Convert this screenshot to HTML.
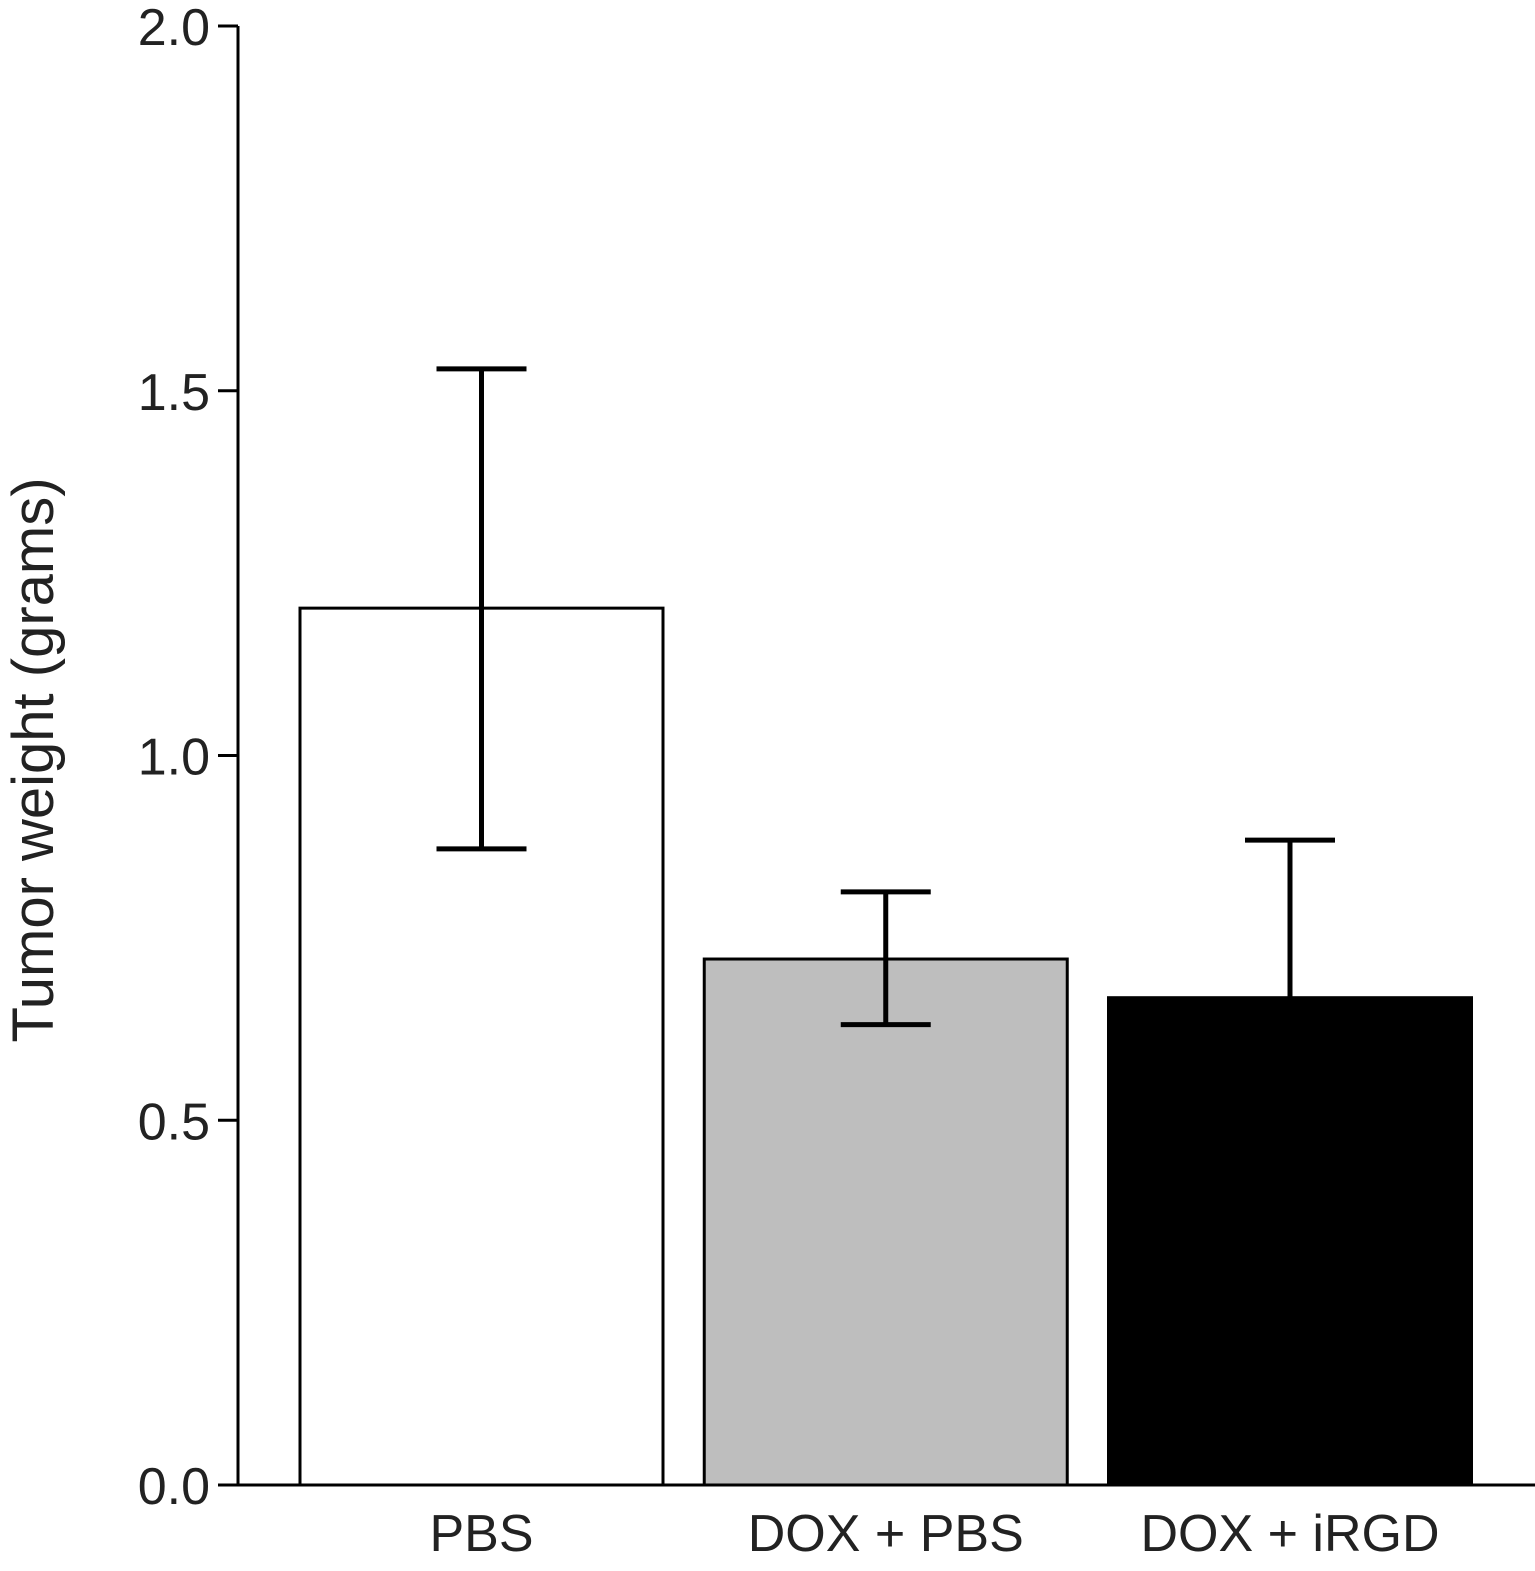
<!DOCTYPE html>
<html><head><meta charset="utf-8"><style>
html,body{margin:0;padding:0;background:#fff;}
svg{display:block;font-family:"Liberation Sans",sans-serif;}
</style></head><body>
<svg id="chart" width="1535" height="1571" viewBox="0 0 1535 1571"></svg>
<script>
const categories = ["PBS", "DOX + PBS", "DOX + iRGD"];
const means = [1.202, 0.721, 0.668];
const errUpper = [1.530, 0.813, 0.884];
const errLower = [0.872, 0.631, null];
const fills = ["#ffffff", "#bebebe", "#000000"];
const yTicks = [0, 0.5, 1.0, 1.5, 2.0];
const yTickLabels = ["0.0", "0.5", "1.0", "1.5", "2.0"];

const NS = "http://www.w3.org/2000/svg";
const svg = document.getElementById("chart");
const y0 = 1485, y2 = 26, axisX = 238;
function yScale(v){ return y0 - (v/2)*(y0-y2); }
function xCenter(i){ return 481.5 + i*404.25; }
const barW = 363;
function mk(tag, attrs, parent){
  const e = document.createElementNS(NS, tag);
  for (const k in attrs) e.setAttribute(k, attrs[k]);
  (parent||svg).appendChild(e);
  return e;
}

categories.forEach((c,i)=>{
  const top = yScale(means[i]);
  const r = mk("rect",{x:xCenter(i)-barW/2, y:top, width:barW, height:y0-top, fill:fills[i], stroke:"#000","stroke-width":3});
  
  
});
categories.forEach((c,i)=>{
  const cx = xCenter(i);
  const g = mk("g",{stroke:"#000","stroke-width":5,fill:"none"});
  
  
  const lo = errLower[i] == null ? means[i] : errLower[i];
  mk("line",{x1:cx,x2:cx,y1:yScale(errUpper[i]),y2:yScale(lo)},g);
  mk("line",{x1:cx-45,x2:cx+45,y1:yScale(errUpper[i]),y2:yScale(errUpper[i])},g);
  if (errLower[i] != null) mk("line",{x1:cx-45,x2:cx+45,y1:yScale(lo),y2:yScale(lo)},g);
});
const ax = mk("line",{x1:axisX,x2:axisX,y1:y2,y2:y0+1,stroke:"#000","stroke-width":3});


const xa = mk("line",{x1:axisX,x2:1535,y1:y0,y2:y0,stroke:"#000","stroke-width":3});


yTicks.forEach((v,i)=>{
  const y = yScale(v);
  const t = mk("line",{x1:218,x2:axisX,y1:y,y2:y,stroke:"#000","stroke-width":3});
  
  
  const l = mk("text",{x:210,y:y+19,"text-anchor":"end","font-size":52,fill:"#222"});
  l.textContent = yTickLabels[i];
  
  
});
categories.forEach((c,i)=>{
  const l = mk("text",{x:xCenter(i),y:1551,"text-anchor":"middle","font-size":52,fill:"#222"});
  l.textContent = c;
  
  
});
const yt = mk("text",{x:0,y:0,"text-anchor":"middle","font-size":58,fill:"#222",transform:"translate(53,760) rotate(-90)"});
yt.textContent = "Tumor weight (grams)";


</script>
</body></html>
